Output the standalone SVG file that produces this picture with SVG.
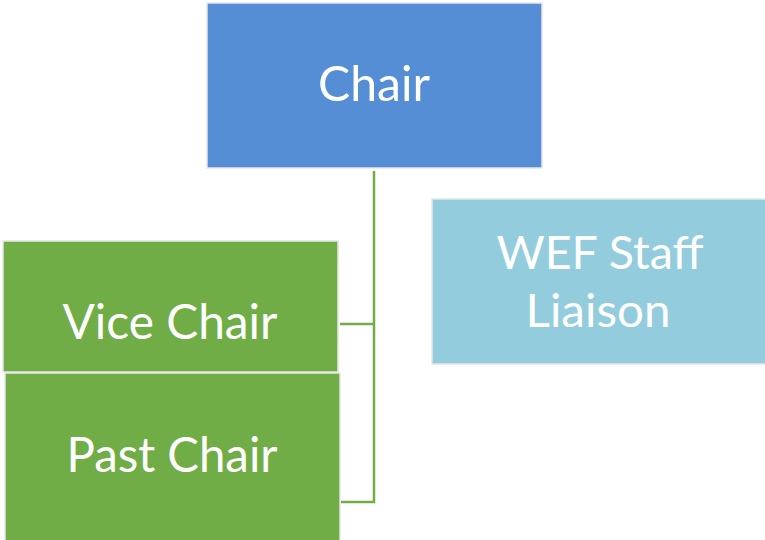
<svg xmlns="http://www.w3.org/2000/svg" width="765" height="540" viewBox="0 0 765 540">
<style>
.box{stroke:#e6e6e6;stroke-width:1.5}
.lbl{font-family:Lato,"Open Sans","Liberation Sans",sans-serif;font-size:48px;fill:#ffffff;text-anchor:middle}
.two{font-size:47px}
.conn{fill:none;stroke:#70ad47;stroke-width:2.5}
</style>
<rect width="765" height="540" fill="#ffffff"/>
<g id="connectors">
<path class="conn" d="M374,171 V502 H341"/>
<path class="conn" d="M374,324 H340"/>
</g>
<g id="chair">
<rect class="box" x="207" y="3" width="335" height="165" fill="#558ed5"/>
<text class="lbl" x="374" y="101" textLength="112" lengthAdjust="spacingAndGlyphs">Chair</text>
</g>
<g id="vice-chair">
<rect class="box" x="3" y="241" width="335" height="131" fill="#70ad47"/>
<text class="lbl" x="170" y="339" textLength="215" lengthAdjust="spacingAndGlyphs">Vice Chair</text>
</g>
<g id="past-chair">
<rect class="box" x="5" y="373" width="335" height="170" fill="#70ad47"/>
<text class="lbl" x="172" y="472" textLength="211" lengthAdjust="spacingAndGlyphs">Past Chair</text>
</g>
<g id="wef-staff-liaison">
<rect class="box" x="432" y="199" width="335" height="165" fill="#93cddd"/>
<text class="lbl two" x="600" y="269" textLength="207" lengthAdjust="spacingAndGlyphs">WEF Staff</text>
<text class="lbl two" x="598" y="327" textLength="145" lengthAdjust="spacingAndGlyphs">Liaison</text>
</g>
</svg>
